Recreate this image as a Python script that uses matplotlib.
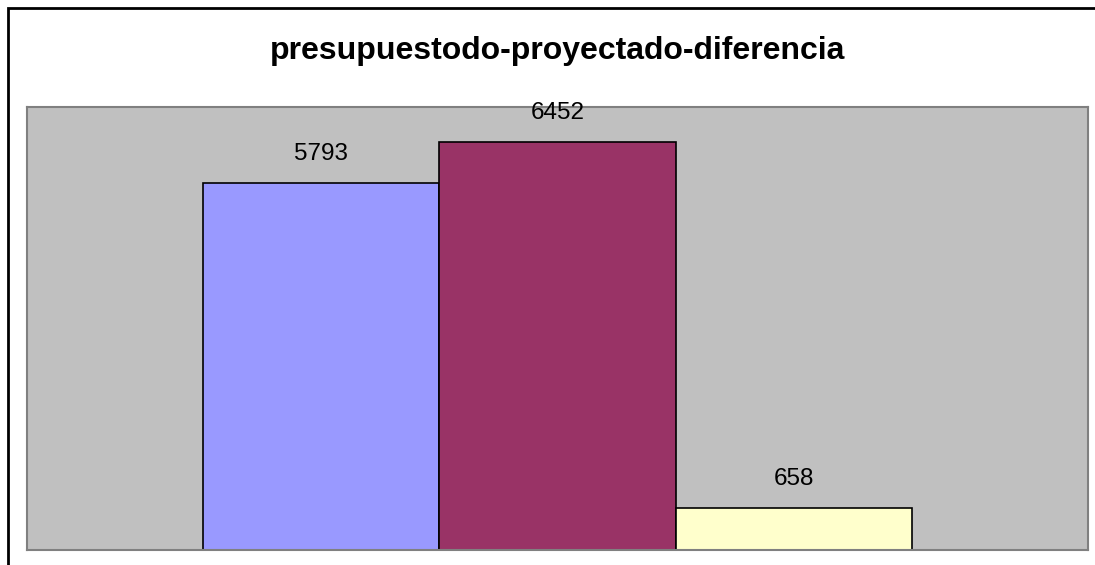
import matplotlib.pyplot as plt
from matplotlib.patches import Rectangle

plt.rcParams['font.family'] = ['Liberation Sans', 'DejaVu Sans']

title = 'presupuestodo-proyectado-diferencia'
series = ['presupuestado', 'proyectado', 'diferencia']
values = [5793, 6452, 658]
colors = ['#9999FF', '#993366', '#FFFFCC']

W, H = 1095, 565
fig = plt.figure(figsize=(W / 100, H / 100), dpi=100)

# outer chart frame (cut off at the right and bottom edges)
fig.patches.append(Rectangle((7.5 / W, -0.1), 1.2, (H - 7.5) / H + 0.1,
                             transform=fig.transFigure, fill=False,
                             edgecolor='black', linewidth=2))

ax = fig.add_axes([27 / W, 15 / H, 1061 / W, 443 / H])
ax.set_facecolor('#C0C0C0')
bars = ax.bar(range(len(values)), values, width=1.0, color=colors,
              edgecolor='black', linewidth=1.2)
ax.bar_label(bars, labels=[str(v) for v in values], padding=13, fontsize=17.5)

ax.set_xlim(-1.247, 3.247)
ax.set_ylim(0, 7000)
ax.set_xticks([])
ax.set_yticks([])
for s in ax.spines.values():
    s.set_color('#808080')
    s.set_linewidth(1.5)

fig.text(558 / W, 1 - 59 / H, title, ha='center', va='baseline',
         fontsize=23, fontweight='bold')

fig.savefig('out.png', dpi=100)
